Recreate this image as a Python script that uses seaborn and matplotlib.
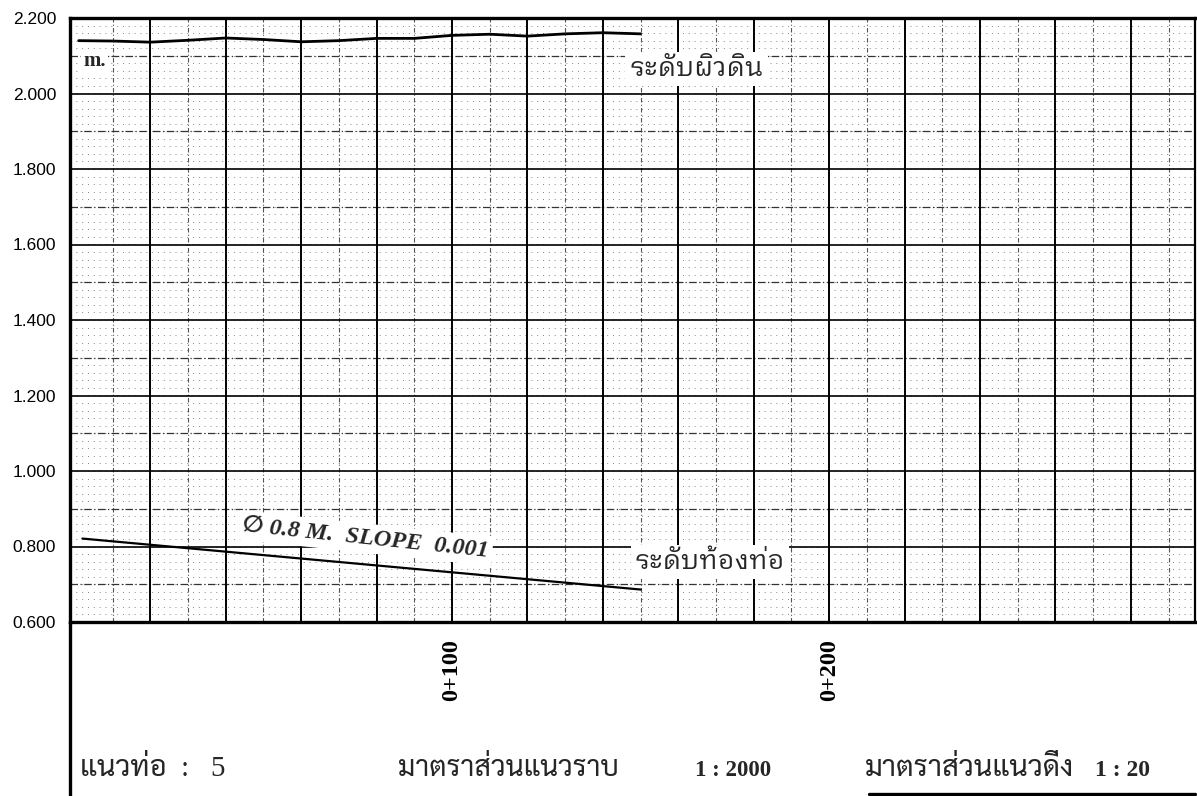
import numpy as np
import matplotlib
matplotlib.use('Agg')
import matplotlib.pyplot as plt
import seaborn as sns

# ระดับผิวดิน / ระดับท้องท่อ  (chainage m, level m)
ground_ch = [1, 10, 20, 30, 40, 50, 60, 70, 80, 90, 100, 110, 120, 130, 140, 150]
ground_lv = [2.140, 2.139, 2.136, 2.141, 2.147, 2.143, 2.137, 2.140, 2.146,
             2.146, 2.154, 2.157, 2.152, 2.158, 2.161, 2.158]
pipe_ch = [2, 150]
pipe_lv = [0.821, 0.686]

y_ticks = [0.6, 0.8, 1.0, 1.2, 1.4, 1.6, 1.8, 2.0, 2.2]
station_ticks = [100, 200]
station_labels = ['0+100', '0+200']

LABEL_FONT = ['IBM Plex Sans Thai Looped', 'Noto Sans Thai Looped', 'DejaVu Sans']
BLOCK_FONT = ['Liberation Serif', 'Sarabun', 'Noto Sans Thai Looped']

sns.set_theme(style='white')
plt.rcParams['font.family'] = ['Liberation Sans', 'DejaVu Sans']

fig = plt.figure(figsize=(11.97, 7.96), dpi=100)
ax = fig.add_axes([70 / 1197, 174 / 796, 1125 / 1197, 604 / 796])
ax.set_xlim(-1.3, 297)
ax.set_ylim(0.6, 2.2)

# graph paper grid
for y in np.arange(0.62, 2.2, 0.02):
    ax.axhline(y, color='#888888', lw=0.7, ls=(0, (1, 5)), zorder=0)
for x in np.arange(10, 297, 20):
    ax.axvline(x, color='#555555', lw=0.8, ls=(0, (4, 2, 1, 2)), zorder=0.5)
for y in np.arange(0.7, 2.2, 0.2):
    ax.axhline(y, color='#333333', lw=0.9, ls=(0, (6, 2, 1, 2)), zorder=0.5)
for y in y_ticks:
    ax.axhline(y, color='black', lw=1.2, zorder=1)
for x in np.arange(20, 297, 20):
    ax.axvline(x, color='black', lw=1.4, zorder=1)

sns.lineplot(x=ground_ch, y=ground_lv, ax=ax, color='black', lw=2.0, zorder=3)
sns.lineplot(x=pipe_ch, y=pipe_lv, ax=ax, color='black', lw=1.6, zorder=3)

white = dict(facecolor='white', edgecolor='none', pad=3)
ax.text(2.3, 2.086, 'm.', fontsize=15, fontweight='bold', family='Liberation Serif',
        ha='left', va='center', bbox=dict(facecolor='white', edgecolor='none', pad=1.5),
        zorder=4)
ax.text(147, 2.065, 'ระดับผิวดิน', fontsize=19, family=LABEL_FONT,
        ha='left', va='center', bbox=white, zorder=4)
ax.text(148.5, 0.759, 'ระดับท้องท่อ', fontsize=19, family=LABEL_FONT,
        ha='left', va='center', bbox=white, zorder=4)
ax.text(77, 0.822, '\u2205 0.8 M.  SLOPE  0.001', fontsize=17.5, fontweight='bold',
        style='italic', family=['Liberation Serif', 'DejaVu Sans'], rotation=-6,
        rotation_mode='anchor', ha='center', va='center', bbox=white, zorder=4)

# axes / ticks
ax.set_yticks(y_ticks)
ax.set_yticklabels(['%.3f' % v for v in y_ticks], fontsize=12.5)
ax.set_xticks(station_ticks)
ax.set_xticklabels(station_labels, rotation=90, fontsize=17.5, fontweight='bold',
                   family='Liberation Serif')
ax.tick_params(axis='y', direction='out', length=6, width=1, pad=4, colors='black')
ax.tick_params(axis='x', length=0, pad=12, colors='black')
ax.set_xlabel('')
ax.set_ylabel('')
for side in ['left', 'top', 'bottom', 'right']:
    ax.spines[side].set_visible(True)
    ax.spines[side].set_color('black')
    ax.spines[side].set_linewidth(2.4)
    ax.spines[side].set_zorder(5)
ax.spines['right'].set_linewidth(1.6)

# title block under the profile
ax.plot([0, 0], [0, -0.29], transform=ax.transAxes, color='black', lw=2.4, clip_on=False)
ax.plot([0.71, 1.0], [-0.284, -0.284], transform=ax.transAxes, color='black', lw=2.4,
        clip_on=False)
base = -0.255
ax.text(0.009, base, 'แนวท่อ  :   5', transform=ax.transAxes, fontsize=21,
        family=BLOCK_FONT, ha='left', va='baseline')
ax.text(0.2916, base, 'มาตราส่วนแนวราบ', transform=ax.transAxes, fontsize=20.5,
        family=BLOCK_FONT, ha='left', va='baseline')
ax.text(0.5556, base, '1 : 2000', transform=ax.transAxes, fontsize=16.5, fontweight='bold',
        family='Liberation Serif', ha='left', va='baseline')
ax.text(0.7067, base, 'มาตราส่วนแนวดิ่ง', transform=ax.transAxes, fontsize=21,
        family=BLOCK_FONT, ha='left', va='baseline')
ax.text(0.9111, base, '1 : 20', transform=ax.transAxes, fontsize=17, fontweight='bold',
        family='Liberation Serif', ha='left', va='baseline')

fig.savefig('out.png', dpi=100, facecolor='white')
